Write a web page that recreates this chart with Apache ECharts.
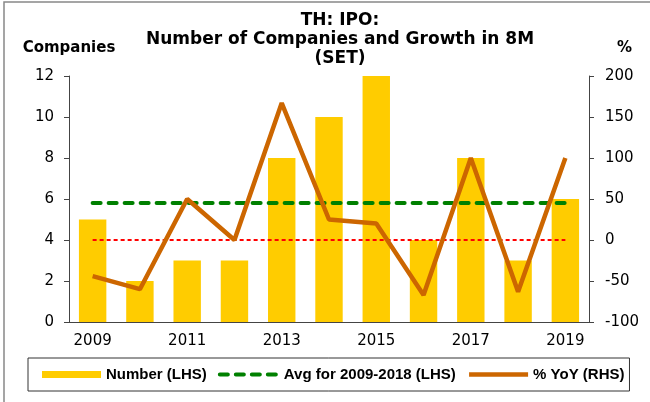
<!DOCTYPE html>
<html>
<head>
<meta charset="utf-8">
<script src="https://cdn.jsdelivr.net/npm/echarts@6/dist/echarts.min.js"></script>
<style>
	html, body { margin: 0; padding: 0; background: #fff; }
</style>
</head>
<body>
<div id="chart1" style="width: 650px; height: 402px"></div>

<script>
	// data
	const years = ['2009', '2010', '2011', '2012', '2013', '2014', '2015', '2016', '2017', '2018', '2019'];
	const companies = [5, 2, 3, 3, 8, 10, 12, 4, 8, 3, 6];
	const avg0918 = [5.8, 5.8, 5.8, 5.8, 5.8, 5.8, 5.8, 5.8, 5.8, 5.8, 5.8];
	const yoy = [-44, -60, 50, 0, 167, 25, 20, -67, 100, -63, 100];
	const zeroRef = [0, 0, 0, 0, 0, 0, 0, 0, 0, 0, 0];

	const chart1 = echarts.init(document.getElementById('chart1'));
	const tickFont = { fontFamily: 'DejaVu Sans', fontSize: 15, color: '#000' };
	const axisCol = '#444';

	const chart1_option = {
		animation: false,
		title: {
			text: 'TH: IPO:\nNumber of Companies and Growth in 8M\n(SET)',
			left: 340,
			textAlign: 'center',
			top: 11,
			padding: 0,
			textStyle: { fontFamily: 'DejaVu Sans', fontSize: 17, fontWeight: 'bold', lineHeight: 19, color: '#000' }
		},
		grid: { left: 69, right: 61, top: 76, bottom: 80 },
		legend: {
			left: 28,
			top: 358,
			padding: [8, 5, 8, 14],
			borderColor: '#333',
			borderWidth: 1,
			itemWidth: 59,
			itemHeight: 7,
			itemGap: 11,
			textStyle: { fontFamily: 'Liberation Sans', fontSize: 15, fontWeight: 'bold', lineHeight: 17, color: '#000' },
			data: [
				{ name: 'Number (LHS)', icon: 'rect' },
				{
					name: 'Avg for 2009-2018 (LHS)',
					itemStyle: { opacity: 0 },
					lineStyle: { width: 4, type: [8, 8], cap: 'round', color: '#008000' }
				},
				{
					name: '% YoY (RHS)',
					itemStyle: { opacity: 0 },
					lineStyle: { width: 4.5, color: '#CC6600' }
				}
			]
		},
		xAxis: [{
			type: 'category',
			boundaryGap: true,
			data: years,
			axisLine: { lineStyle: { color: axisCol, width: 1 } },
			axisTick: { interval: 0, length: 5, lineStyle: { color: axisCol } },
			axisLabel: Object.assign({ interval: 1, margin: 12 }, tickFont)
		}],
		yAxis: [{
			type: 'value',
			min: 0, max: 12, interval: 2,
			name: 'Companies',
			nameLocation: 'end',
			nameGap: 20,
			nameTextStyle: { fontFamily: 'DejaVu Sans', fontSize: 15, fontWeight: 'bold', color: '#000' },
			splitLine: { show: false },
			axisLine: { show: true, lineStyle: { color: axisCol, width: 1 } },
			axisTick: { show: true, length: 5, lineStyle: { color: axisCol } },
			axisLabel: Object.assign({ margin: 15 }, tickFont)
		}, {
			type: 'value',
			min: -100, max: 200, interval: 50,
			name: '%',
			nameLocation: 'end',
			nameGap: 20,
			nameTextStyle: { fontFamily: 'DejaVu Sans', fontSize: 15, fontWeight: 'bold', color: '#000', align: 'left', padding: [0, 0, 0, 28] },
			splitLine: { show: false },
			axisLine: { show: true, lineStyle: { color: axisCol, width: 1 } },
			axisTick: { show: true, length: 5, lineStyle: { color: axisCol } },
			axisLabel: Object.assign({ margin: 16 }, tickFont)
		}],
		series: [{
			name: 'Number (LHS)',
			type: 'bar',
			data: companies,
			barWidth: '58%',
			itemStyle: { color: '#FFCC00' }
		}, {
			name: 'Avg for 2009-2018 (LHS)',
			type: 'line',
			data: avg0918,
			symbol: 'none',
			lineStyle: { color: '#008000', width: 4, type: [8, 8], cap: 'round' },
			itemStyle: { color: '#008000' },
			z: 3
		}, {
			name: 'zero',
			type: 'line',
			yAxisIndex: 1,
			data: zeroRef,
			symbol: 'none',
			lineStyle: { color: '#FF0000', width: 1.8, type: [4, 3] },
			z: 3
		}, {
			name: '% YoY (RHS)',
			type: 'line',
			yAxisIndex: 1,
			data: yoy,
			symbol: 'none',
			lineStyle: { color: '#CC6600', width: 4.5 },
			itemStyle: { color: '#CC6600' },
			z: 4
		}],
		graphic: [{
			type: 'polyline',
			shape: { points: [[4, 402], [4, 2], [650, 2]] },
			style: { stroke: '#888', lineWidth: 1.5, fill: null },
			silent: true
		}]
	};

	chart1.setOption(chart1_option);
</script>
</body>
</html>
